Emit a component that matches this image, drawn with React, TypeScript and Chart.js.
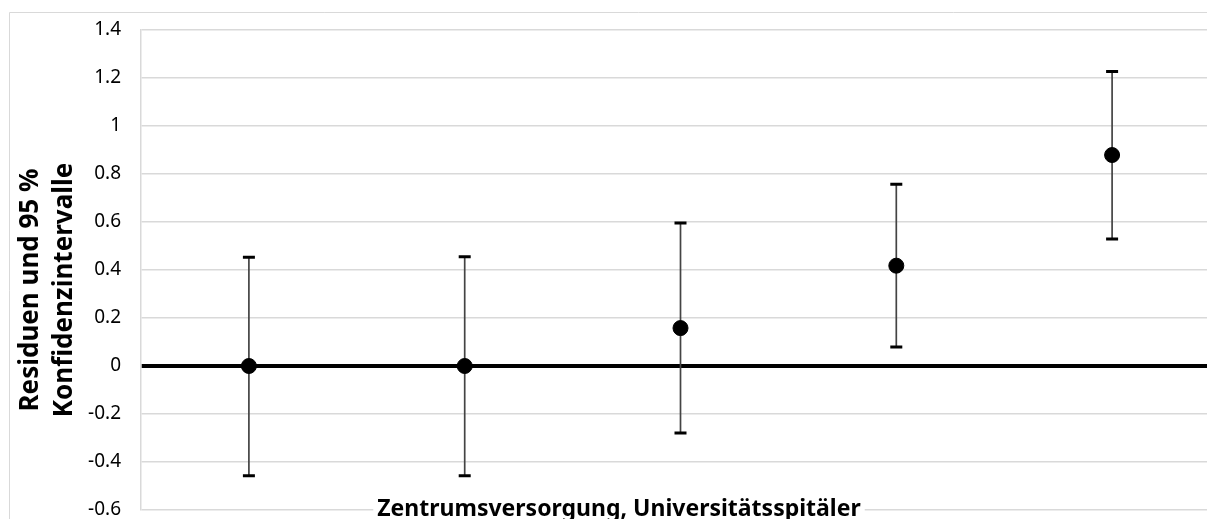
import React, { useEffect, useRef } from "react";
import { Chart, registerables } from "chart.js";

Chart.register(...registerables);

const groups = [1, 2, 3, 4, 5];
const residuals = [0, 0, 0.158, 0.418, 0.879];
const lowerCI = [-0.457, -0.457, -0.279, 0.079, 0.529];
const upperCI = [0.453, 0.455, 0.596, 0.757, 1.227];
const yTitleLines = ["Residuen und 95 %", "Konfidenzintervalle"];
const xTitle = "Zentrumsversorgung, Universitätsspitäler";
const yMin = -0.6;
const yMax = 1.4;
const yStep = 0.2;

const FONT = "'Noto Sans', 'Open Sans', sans-serif";

const errorBarPlugin = {
  id: "errorBars",
  beforeDatasetsDraw(chart: any) {
    const { ctx, scales } = chart;
    const xs = scales.x;
    const ys = scales.y;
    ctx.save();
    groups.forEach((g, i) => {
      const x = xs.getPixelForValue(g);
      const yl = ys.getPixelForValue(lowerCI[i]);
      const yu = ys.getPixelForValue(upperCI[i]);
      ctx.strokeStyle = "#444444";
      ctx.lineWidth = 1.7;
      ctx.beginPath();
      ctx.moveTo(x, yl);
      ctx.lineTo(x, yu);
      ctx.stroke();
      ctx.strokeStyle = "#000000";
      ctx.lineWidth = 3;
      ctx.beginPath();
      ctx.moveTo(x - 6, yl);
      ctx.lineTo(x + 6, yl);
      ctx.moveTo(x - 6, yu);
      ctx.lineTo(x + 6, yu);
      ctx.stroke();
    });
    ctx.restore();
  },
};

const decorPlugin = {
  id: "decor",
  beforeDraw(chart: any) {
    const { ctx, width, height } = chart;
    ctx.save();
    ctx.fillStyle = "#ffffff";
    ctx.fillRect(0, 0, width, height);
    ctx.strokeStyle = "#d9d9d9";
    ctx.lineWidth = 1;
    ctx.beginPath();
    ctx.moveTo(1.5, height);
    ctx.lineTo(1.5, 4.5);
    ctx.lineTo(width, 4.5);
    ctx.stroke();
    ctx.restore();
  },
  afterDraw(chart: any) {
    const { ctx } = chart;
    ctx.save();
    ctx.fillStyle = "#000000";
    // y title
    ctx.save();
    ctx.font = `bold 26px ${FONT}`;
    ctx.translate(0, 282);
    ctx.rotate(-Math.PI / 2);
    ctx.textAlign = "center";
    ctx.textBaseline = "alphabetic";
    ctx.fillText(yTitleLines[0], 0, 30);
    ctx.fillText(yTitleLines[1], 0, 64);
    ctx.restore();
    // x title
    ctx.font = `bold 23px ${FONT}`;
    const w = ctx.measureText(xTitle).width;
    ctx.fillStyle = "#ffffff";
    ctx.fillRect(611 - w / 2 - 4, 488, w + 8, 30);
    ctx.fillStyle = "#000000";
    ctx.textAlign = "center";
    ctx.textBaseline = "alphabetic";
    ctx.fillText(xTitle, 611, 508);
    ctx.restore();
  },
};

export default function App() {
  const ref = useRef<HTMLCanvasElement>(null);
  useEffect(() => {
    if (!ref.current) return;
    const chart = new Chart(ref.current, {
      type: "scatter",
      data: {
        datasets: [
          {
            data: groups.map((g, i) => ({ x: g, y: residuals[i] })),
            backgroundColor: "#000000",
            borderColor: "#000000",
            pointRadius: 7.5,
            pointHoverRadius: 7.5,
            showLine: false,
          },
        ],
      },
      options: {
        animation: false,
        responsive: false,
        devicePixelRatio: 1,
        events: [],
        layout: { padding: { top: 22, right: 48, bottom: 58, left: 0 } },
        plugins: { legend: { display: false }, tooltip: { enabled: false } },
        scales: {
          x: { type: "linear", display: false, min: 0.5, max: 5.5 },
          y: {
            min: yMin,
            max: yMax,
            afterFit(scale: any) {
              scale.width = 133;
              scale.paddingTop = 0;
              scale.paddingBottom = 0;
            },
            ticks: {
              stepSize: yStep,
              padding: 20,
              color: "#000000",
              font: { family: FONT, size: 19 },
              callback: (v: any) => String(Number(Number(v).toFixed(1))),
            },
            grid: {
              drawTicks: false,
              color: (c: any) => (Math.abs(c.tick?.value ?? 1) < 1e-9 ? "#000000" : "#d9d9d9"),
              lineWidth: (c: any) => (Math.abs(c.tick?.value ?? 1) < 1e-9 ? 4 : 1.5),
            },
            border: { color: "#d9d9d9", width: 1.5 },
          },
        },
      },
      plugins: [errorBarPlugin, decorPlugin],
    } as any);
    return () => chart.destroy();
  }, []);
  return (
    <div style={{ width: 1207, height: 511, overflow: "hidden", position: "relative" }}>
      <canvas ref={ref} width={1260} height={560} style={{ display: "block" }} />
    </div>
  );
}
